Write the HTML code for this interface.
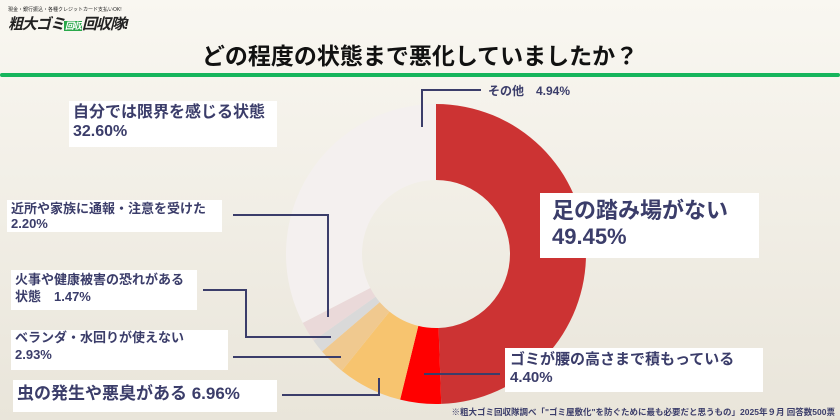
<!DOCTYPE html>
<html><head><meta charset="utf-8"><style>
body{margin:0;width:840px;height:420px;overflow:hidden;font-family:"Liberation Sans","Noto Sans CJK JP",sans-serif;}
#root{position:relative;width:840px;height:420px;background:linear-gradient(#f9f7f1,#e9e5da);}
.box{position:absolute;background:#fff;color:#3b3d6a;font-weight:bold;line-height:1.2;box-sizing:border-box;padding:2px 4px;white-space:nowrap}
svg{position:absolute;left:0;top:0}
</style></head><body>
<div id="root">
<div style="position:absolute;left:8px;top:6px;color:#222;">
 <div style="font-size:5px;">現金・銀行振込・各種クレジットカード支払いOK!</div>
 <div style="font-size:15px;font-weight:bold;font-style:italic;letter-spacing:-1px;">粗大ゴミ<span style="background:#2aa84a;color:#fff;font-size:9px;padding:0 1px;">回収</span>回収隊!</div>
</div>
<div style="position:absolute;left:0;width:840px;top:37px;text-align:center;font-size:23px;font-weight:bold;color:#111;">どの程度の状態まで悪化していましたか？</div>
<div style="position:absolute;left:0;top:73px;width:840px;height:4px;background:#16b55c;border-radius:2px;"></div>
<svg id="chart" width="840" height="420"></svg>
<div class="box" style="left:484px;top:82px;background:none;font-size:12px;">その他　4.94%</div>
<div class="box" style="left:69px;top:101px;width:208px;height:46px;font-size:16px;">自分では限界を感じる状態<br>32.60%</div>
<div class="box" style="left:7px;top:200px;width:215px;height:32px;font-size:13px;line-height:1.15;">近所や家族に通報・注意を受けた<br>2.20%</div>
<div class="box" style="left:11px;top:270px;width:186px;height:40px;font-size:13px;line-height:1.3;">火事や健康被害の恐れがある<br>状態　1.47%</div>
<div class="box" style="left:11px;top:330px;width:217px;height:40px;font-size:13px;line-height:1.3;padding-top:0;">ベランダ・水回りが使えない<br>2.93%</div>
<div class="box" style="left:13px;top:380px;width:264px;height:32px;font-size:17px;padding-top:4px;">虫の発生や悪臭がある 6.96%</div>
<div class="box" style="left:540px;top:193px;width:219px;height:65px;font-size:22px;padding:5px 12px;">足の踏み場がない<br>49.45%</div>
<div class="box" style="left:505px;top:348px;width:258px;height:44px;font-size:15px;padding:3px 5px;">ゴミが腰の高さまで積もっている<br>4.40%</div>
<div style="position:absolute;left:420px;top:406px;width:415px;text-align:right;font-size:8.5px;font-weight:bold;color:#3b3d6a;white-space:nowrap;">※粗大ゴミ回収隊調べ「"ゴミ屋敷化"を防ぐために最も必要だと思うもの」2025年９月 回答数500票</div>
</div>
<script>
const categories=["足の踏み場がない","ゴミが腰の高さまで積もっている","虫の発生や悪臭がある","ベランダ・水回りが使えない","火事や健康被害の恐れがある状態","近所や家族に通報・注意を受けた","自分では限界を感じる状態"];
const values=[49.45,4.40,6.96,2.93,1.47,2.20,32.60];
const colors=["#cc3333","#ff0000","#f7c46f","#f0c98f","#d9d9d9","#ead9d9","#f4f0ef"];
const NS="http://www.w3.org/2000/svg";
const svg=document.getElementById('chart');
const cx=436,cy=254,R=150,r=74;
const total=values.reduce((a,b)=>a+b,0);
function pt(a,rad){return [cx+rad*Math.sin(a),cy-rad*Math.cos(a)];}
let acc=0;
values.forEach((v,i)=>{
 const a0=acc/total*2*Math.PI;acc+=v;const a1=acc/total*2*Math.PI;
 const lg=(a1-a0)>Math.PI?1:0;
 const p0=pt(a0,R),p1=pt(a1,R),q1=pt(a1,r),q0=pt(a0,r);
 const p=document.createElementNS(NS,'path');
 p.setAttribute('d',`M${p0}A${R},${R} 0 ${lg} 1 ${p1}L${q1}A${r},${r} 0 ${lg} 0 ${q0}Z`);
 p.setAttribute('fill',colors[i]);
 
 
 svg.appendChild(p);
});
const leaders=[
 "422,127 422,90 481,90",
 "233,215 328,215 328,317",
 "203,290 246,290 246,337 331,337",
 "233,357 341,357",
 "282,395 379,395 379,378",
 "424,374 500,374"];
leaders.forEach((s,i)=>{
 const l=document.createElementNS(NS,'polyline');
 l.setAttribute('points',s);l.setAttribute('fill','none');l.setAttribute('stroke','#3b3d6a');l.setAttribute('stroke-width','2');
 
 
 svg.appendChild(l);
});
</script>
</body></html>
